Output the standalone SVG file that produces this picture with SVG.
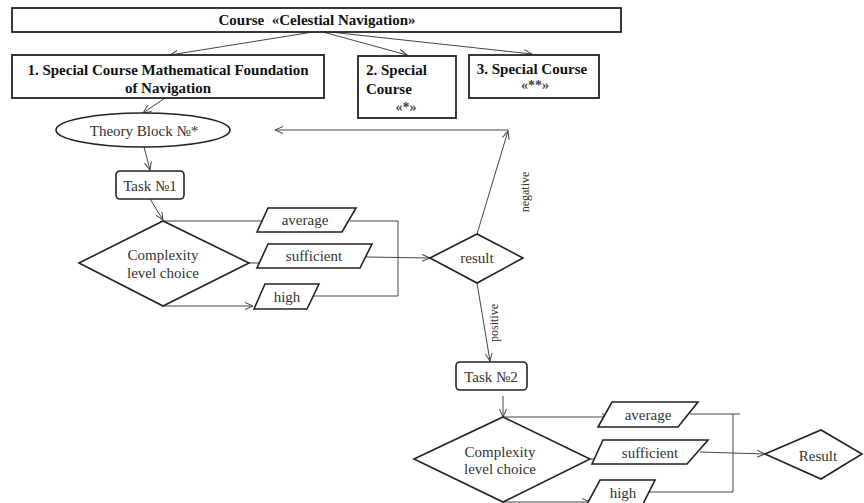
<svg xmlns="http://www.w3.org/2000/svg" width="864" height="503" viewBox="0 0 864 503">
<style>
.box{fill:#fff;stroke:#222;stroke-width:1.8}
.shape{fill:#fff;stroke:#222;stroke-width:1.6}
.c{fill:none;stroke:#444;stroke-width:1}
.b{font-family:'Liberation Serif','Times New Roman','DejaVu Serif',serif;font-weight:bold;font-size:15px;fill:#111}
.t{font-family:'Liberation Serif','Times New Roman','DejaVu Serif',serif;font-size:15px;fill:#333}
.s{font-family:'Liberation Serif','Times New Roman','DejaVu Serif',serif;font-size:12px;fill:#333}
.g{font-family:'Liberation Serif','Times New Roman','DejaVu Serif',serif;font-size:14px;font-weight:bold;fill:#444}
</style>
<defs>
<marker id="a" markerWidth="10" markerHeight="8" refX="8" refY="4" orient="auto" markerUnits="userSpaceOnUse">
<path d="M0,0.5 L8,4 L0,7.5" fill="none" stroke="#444" stroke-width="1"/>
</marker>
</defs>
<rect width="864" height="503" fill="#fff"/>
<g id="connectors">
<line class="c" x1="313" y1="32" x2="170" y2="55" marker-end="url(#a)"/>
<line class="c" x1="323" y1="32" x2="407" y2="55" marker-end="url(#a)"/>
<line class="c" x1="330" y1="32" x2="532" y2="54" marker-end="url(#a)"/>
<line class="c" x1="165" y1="98" x2="143" y2="113" marker-end="url(#a)"/>
<line class="c" x1="144" y1="147" x2="150" y2="170" marker-end="url(#a)"/>
<line class="c" x1="150" y1="199" x2="163" y2="220" marker-end="url(#a)"/>
<line class="c" x1="163" y1="221" x2="274" y2="221" marker-end="url(#a)"/>
<line class="c" x1="249" y1="263" x2="273" y2="263" marker-end="url(#a)"/>
<line class="c" x1="163" y1="306" x2="253" y2="306" marker-end="url(#a)"/>
<polyline class="c" points="350,221 398,221 398,296 313,296"/>
<line class="c" x1="366" y1="257" x2="430" y2="258" marker-end="url(#a)"/>
<line class="c" x1="477" y1="234" x2="508" y2="131" marker-end="url(#a)"/>
<line class="c" x1="508" y1="130" x2="275" y2="130" marker-end="url(#a)"/>
<line class="c" x1="477" y1="283" x2="490" y2="361" marker-end="url(#a)"/>
<line class="c" x1="503" y1="396" x2="503" y2="417" marker-end="url(#a)"/>
<line class="c" x1="503" y1="417" x2="610" y2="417" marker-end="url(#a)"/>
<line class="c" x1="590" y1="459" x2="610" y2="459" marker-end="url(#a)"/>
<line class="c" x1="503" y1="502" x2="590" y2="502" marker-end="url(#a)"/>
<polyline class="c" points="690,414 740,414"/>
<polyline class="c" points="733,414 733,492 648,492"/>
<line class="c" x1="700" y1="452" x2="765" y2="454" marker-end="url(#a)"/>
</g>
<g id="course">
<rect class="box" x="12" y="8" width="609" height="24"/>
<text class="b" x="317" y="25" text-anchor="middle" xml:space="preserve">Course  «Celestial Navigation»</text>
</g>
<g id="special1">
<rect class="box" x="12" y="55" width="312" height="43"/>
<text class="b" x="168" y="75" text-anchor="middle">1. Special Course Mathematical Foundation</text>
<text class="b" x="168" y="93" text-anchor="middle">of Navigation</text>
</g>
<g id="special2">
<rect class="box" x="358" y="56" width="98" height="62"/>
<text class="b" x="366" y="75">2. Special</text>
<text class="b" x="366" y="94">Course</text>
<text class="g" x="406" y="112" text-anchor="middle">«*»</text>
</g>
<g id="special3">
<rect class="box" x="469" y="55" width="130" height="43"/>
<text class="b" x="532" y="74" text-anchor="middle">3. Special Course</text>
<text class="g" x="535" y="90" text-anchor="middle">«**»</text>
</g>
<g id="theory">
<ellipse class="shape" cx="143" cy="130" rx="87" ry="17"/>
<text class="t" x="144" y="136" text-anchor="middle">Theory Block №*</text>
</g>
<g id="task1">
<rect class="shape" x="116" y="171" width="68" height="28" rx="4"/>
<text class="t" x="150" y="191" text-anchor="middle">Task №1</text>
</g>
<g id="choice1">
<polygon class="shape" points="79,263 163,221 249,263 163,306"/>
<text class="t" x="163" y="260" text-anchor="middle">Complexity</text>
<text class="t" x="163" y="278" text-anchor="middle">level choice</text>
</g>
<g id="average1">
<polygon class="shape" points="268,208 356,208 342,232 257,232"/>
<text class="t" x="305" y="225" text-anchor="middle">average</text>
</g>
<g id="sufficient1">
<polygon class="shape" points="268,244 372,244 360,268 257,268"/>
<text class="t" x="314" y="261" text-anchor="middle">sufficient</text>
</g>
<g id="high1">
<polygon class="shape" points="265,284 319,284 307,309 254,309"/>
<text class="t" x="287" y="302" text-anchor="middle">high</text>
</g>
<g id="result1">
<polygon class="shape" points="430,258 477,234 523,258 477,283"/>
<text class="t" x="477" y="263" text-anchor="middle">result</text>
</g>
<text class="s" transform="translate(529,192) rotate(-90)" text-anchor="middle">negative</text>
<text class="s" transform="translate(498,323) rotate(-90)" text-anchor="middle">positive</text>
<g id="task2">
<rect class="shape" x="456" y="362" width="71" height="28" rx="4"/>
<text class="t" x="491" y="382" text-anchor="middle">Task №2</text>
</g>
<g id="choice2">
<polygon class="shape" points="414,459 503,417 590,459 503,502"/>
<text class="t" x="500" y="457" text-anchor="middle">Complexity</text>
<text class="t" x="500" y="474" text-anchor="middle">level choice</text>
</g>
<g id="average2">
<polygon class="shape" points="612,402 698,402 678,427 598,427"/>
<text class="t" x="648" y="420" text-anchor="middle">average</text>
</g>
<g id="sufficient2">
<polygon class="shape" points="603,440 708,440 687,464 592,464"/>
<text class="t" x="650" y="458" text-anchor="middle">sufficient</text>
</g>
<g id="high2">
<polygon class="shape" points="600,480 655,480 642,506 586,506"/>
<text class="t" x="623" y="498" text-anchor="middle">high</text>
</g>
<g id="result2">
<polygon class="shape" points="765,454 821,430 862,454 821,479"/>
<text class="t" x="818" y="461" text-anchor="middle">Result</text>
</g>
</svg>
